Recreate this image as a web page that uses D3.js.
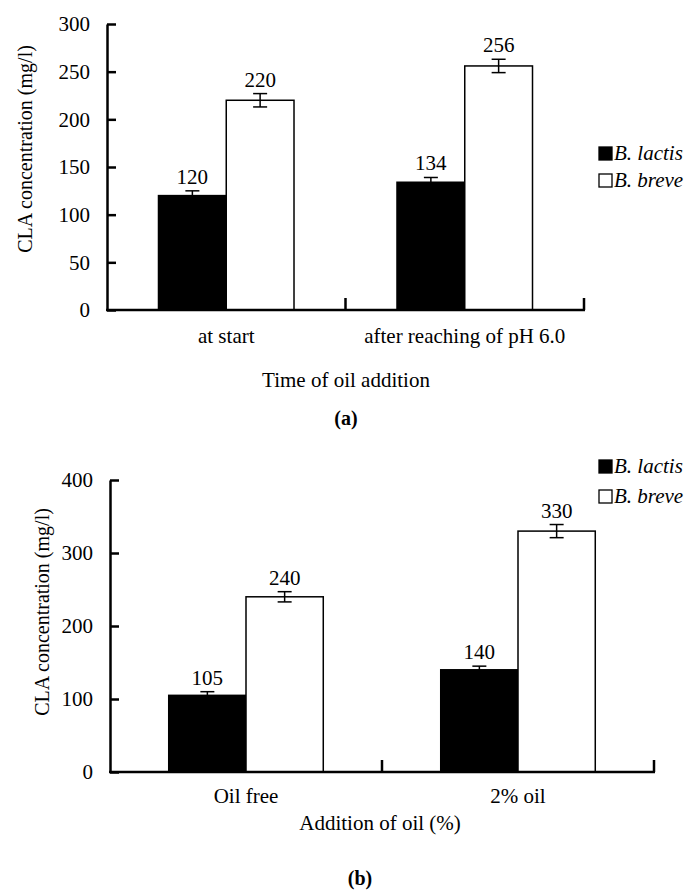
<!DOCTYPE html>
<html>
<head>
<meta charset="utf-8">
<script src="https://cdn.jsdelivr.net/npm/d3@7"></script>
<style>
  html, body { margin: 0; padding: 0; background: #fff; }
  svg text { font-family: "Liberation Serif", "Times New Roman", serif !important; fill: #000; }
</style>
</head>
<body>
<svg id="chart" width="691" height="893" font-family="Liberation Serif"></svg>
<script>
// ---- Data ----
const series = ["B. lactis", "B. breve"];
const seriesFill = ["#000", "#fff"];

const categoriesA = ["at start", "after reaching of pH 6.0"];
const lactisA = [120, 134];
const breveA = [220, 256];
const lactisErrA = [5, 5];
const breveErrA = [7, 7];
const ticksA = [0, 50, 100, 150, 200, 250, 300];

const categoriesB = ["Oil free", "2% oil"];
const lactisB = [105, 140];
const breveB = [240, 330];
const lactisErrB = [5, 5];
const breveErrB = [7, 9];
const ticksB = [0, 100, 200, 300, 400];

const svg = d3.select("#chart");
const FS = "21px";

function drawPanel(cfg) {
  const g = svg.append("g");
  const y = d3.scaleLinear().domain([0, cfg.ymax]).range([cfg.y0, cfg.y1]);
  const x0 = d3.scaleBand().domain(cfg.categories).range([cfg.x0, cfg.x1]).padding(0);
  const x1 = d3.scaleBand().domain(series).range([0, x0.bandwidth()]).paddingInner(0).paddingOuter(0.76);

  const rows = cfg.categories.map((c, i) => ({
    cat: c,
    vals: [
      { s: series[0], v: cfg.lactis[i], e: cfg.lactisErr[i], fill: seriesFill[0] },
      { s: series[1], v: cfg.breve[i], e: cfg.breveErr[i], fill: seriesFill[1] }
    ]
  }));

  const grp = g.selectAll(".grp").data(rows).enter().append("g")
    .attr("transform", d => `translate(${x0(d.cat)},0)`);
  grp.selectAll("rect").data(d => d.vals).enter().append("rect")
    .attr("x", d => x1(d.s))
    .attr("width", x1.bandwidth())
    .attr("y", d => y(d.v))
    .attr("height", d => y(0) - y(d.v))
    .attr("fill", d => d.fill)
    .attr("stroke", "#000")
    .attr("stroke-width", 1.5);

  const cx = d => x1(d.s) + x1.bandwidth() / 2;
  const eb = grp.selectAll(".eb").data(d => d.vals).enter().append("g")
    .attr("stroke", "#000").attr("stroke-width", 1.5);
  eb.append("line").attr("x1", cx).attr("x2", cx)
    .attr("y1", d => y(d.v + d.e)).attr("y2", d => y(d.v - d.e));
  eb.append("line").attr("x1", d => cx(d) - 7).attr("x2", d => cx(d) + 7)
    .attr("y1", d => y(d.v + d.e)).attr("y2", d => y(d.v + d.e));
  eb.append("line").attr("x1", d => cx(d) - 7).attr("x2", d => cx(d) + 7)
    .attr("y1", d => y(d.v - d.e)).attr("y2", d => y(d.v - d.e));

  grp.selectAll(".lbl").data(d => d.vals).enter().append("text")
    .attr("x", cx)
    .attr("y", d => y(d.v + d.e) - 7)
    .attr("text-anchor", "middle")
    .style("font-size", FS)
    .text(d => d.v);

  const ya = g.append("g").attr("transform", `translate(${cfg.x0},0)`)
    .call(d3.axisLeft(y).tickValues(cfg.ticks).tickSize(-9).tickSizeOuter(0).tickPadding(17));
  ya.attr("font-family", null).attr("font-size", null);
  ya.select(".domain").attr("stroke-width", 2.5);
  ya.selectAll(".tick line").attr("stroke-width", 2.5);
  ya.selectAll("text").style("font-size", FS);

  g.append("line").attr("x1", cfg.x0 - 1).attr("x2", cfg.x1 + 1)
    .attr("y1", y(0)).attr("y2", y(0)).attr("stroke", "#000").attr("stroke-width", 2.5);
  const bounds = cfg.categories.map(c => x0(c)).concat([x0.range()[1]]);
  g.selectAll(".xt").data(bounds.slice(1)).enter().append("line")
    .attr("x1", d => d).attr("x2", d => d)
    .attr("y1", y(0)).attr("y2", y(0) - 12)
    .attr("stroke", "#000").attr("stroke-width", 2.5);

  g.selectAll(".cl").data(cfg.categories).enter().append("text")
    .attr("x", d => x0(d) + x0.bandwidth() / 2)
    .attr("y", cfg.catY)
    .attr("text-anchor", "middle")
    .style("font-size", FS)
    .text(d => d);

  g.append("text").attr("x", cfg.xTitleX).attr("y", cfg.xTitleY)
    .attr("text-anchor", "middle").style("font-size", FS).text(cfg.xTitle);

  g.append("text")
    .attr("transform", `translate(${cfg.yTitleX},${cfg.yTitleY}) rotate(-90)`)
    .attr("text-anchor", "middle").style("font-size", "20px")
    .text("CLA concentration (mg/l)");

  g.append("text").attr("x", cfg.letterX).attr("y", cfg.letterY)
    .attr("text-anchor", "middle").style("font-size", "20px").style("font-weight", "bold")
    .text(cfg.letter);

  const lg = g.append("g").attr("transform", `translate(${cfg.legX},0)`);
  const li = lg.selectAll("g").data(series).enter().append("g")
    .attr("transform", (d, i) => `translate(0,${cfg.legY[i]})`);
  li.append("rect").attr("x", 0).attr("y", -7).attr("width", 13).attr("height", 13)
    .attr("fill", (d, i) => seriesFill[i]).attr("stroke", "#000").attr("stroke-width", 1.3);
  li.append("text").attr("x", 15).attr("y", 6)
    .style("font-size", FS).style("font-style", "italic")
    .text(d => d);
}

drawPanel({
  categories: categoriesA, lactis: lactisA, breve: breveA,
  lactisErr: lactisErrA, breveErr: breveErrA, ticks: ticksA, ymax: 300,
  x0: 107, x1: 584, y0: 310, y1: 24,
  catY: 343, xTitle: "Time of oil addition", xTitleX: 346, xTitleY: 387,
  yTitleX: 32, yTitleY: 149, letter: "(a)", letterX: 346, letterY: 425,
  legX: 599, legY: [154, 181]
});

drawPanel({
  categories: categoriesB, lactis: lactisB, breve: breveB,
  lactisErr: lactisErrB, breveErr: breveErrB, ticks: ticksB, ymax: 400,
  x0: 110, x1: 654, y0: 772, y1: 480,
  catY: 803, xTitle: "Addition of oil (%)", xTitleX: 380, xTitleY: 830,
  yTitleX: 49, yTitleY: 612, letter: "(b)", letterX: 360, letterY: 885,
  legX: 599, legY: [467, 497]
});
</script>
</body>
</html>
